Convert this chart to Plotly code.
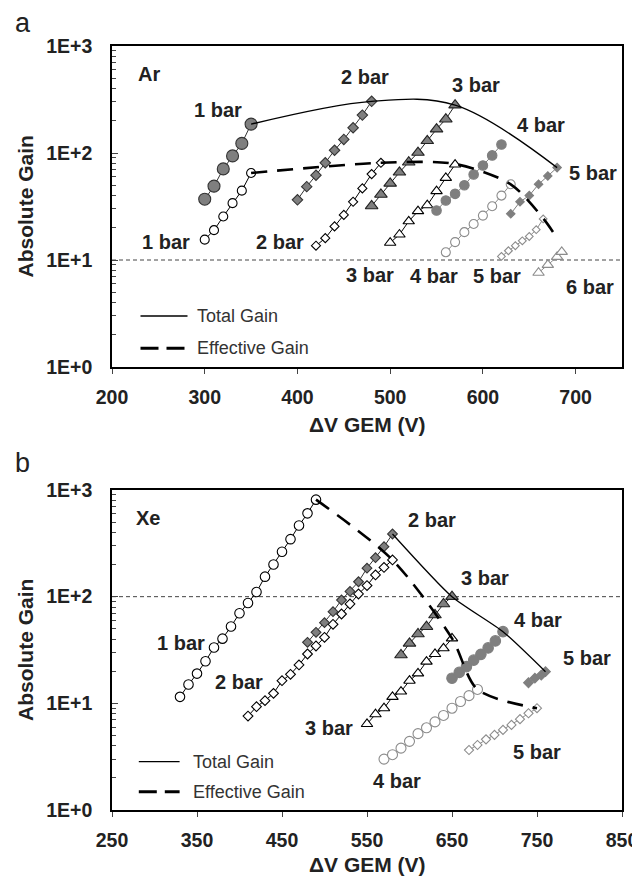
import math
import plotly.graph_objects as go
from plotly.subplots import make_subplots

# ---------------- Panel a : Ar ----------------
AR_V_1T = [300, 310, 320, 330, 340, 350]
AR_G_1T = [37, 49, 71, 94, 123, 186]
AR_V_1E = [300, 310, 320, 330, 340, 350]
AR_G_1E = [15.5, 19, 25.5, 34, 44.5, 65]
AR_V_2T = [400, 410, 420, 430, 440, 450, 460, 470, 480]
AR_G_2T = [36.5, 48.5, 62, 81, 106, 134, 172, 226, 304]
AR_V_2E = [420, 430, 440, 450, 460, 470, 480, 490]
AR_G_2E = [13.6, 16, 20.6, 26.4, 35, 46.7, 63.5, 81]
AR_V_3T = [480, 490, 500, 510, 520, 530, 540, 550, 560, 570]
AR_G_3T = [32, 41, 52, 66, 82, 101, 130, 167, 207, 280]
AR_V_3E = [500, 510, 520, 530, 540, 550, 560, 570]
AR_G_3E = [14.5, 17.3, 23, 28.6, 32.5, 44, 58.5, 78]
AR_V_4T = [550, 560, 570, 580, 590, 600, 610, 620]
AR_G_4T = [29, 36, 41.5, 50, 63, 76.5, 95, 120]
AR_V_4E = [560, 570, 580, 590, 600, 610, 620, 630]
AR_G_4E = [11.8, 14.7, 18.2, 21.7, 26, 31.8, 40, 51]
AR_V_5T = [630, 640, 650, 660, 670, 680]
AR_G_5T = [27, 35, 40, 51, 61, 73]
AR_V_5E = [620, 627.5, 635, 642.5, 650, 657.5, 665]
AR_G_5E = [10.8, 12.2, 13.6, 15.1, 16.6, 19.2, 24.2]
AR_V_6E = [660, 670, 680, 685]
AR_G_6E = [7.6, 9.0, 10.7, 11.9]
AR_TOT_V = [350, 480, 570, 680]
AR_TOT_G = [186, 304, 280, 73]
AR_EFF_V = [350, 490, 570, 630, 665, 680]
AR_EFF_G = [65, 81, 79, 51, 24.5, 16]
AR_REF = 10

# ---------------- Panel b : Xe ----------------
XE_V_1 = [330, 340, 350, 360, 370, 380, 390, 400, 410, 420, 430, 440, 450, 460, 470, 480, 490]
XE_G_1 = [11.5, 15, 19, 24.8, 33.4, 40.4, 52.6, 69.8, 87.3, 110.5, 154, 200, 264, 346, 465, 604, 812]
XE_V_2T = [480, 490, 500, 510, 520, 530, 540, 550, 560, 570, 580]
XE_G_2T = [37.3, 46.3, 57.1, 72.3, 93, 112, 138, 185, 232, 294, 387]
XE_V_2E = [410, 420, 430, 440, 450, 460, 470, 480, 490, 500, 510, 520, 530, 540, 550, 560, 570, 580]
XE_G_2E = [7.6, 9.3, 10.6, 12.4, 16.3, 18.7, 22.9, 29, 34.5, 41.6, 55, 68.8, 85.4, 106, 127, 160, 188, 221]
XE_V_3T = [590, 600, 610, 620, 630, 640, 650]
XE_G_3T = [28.4, 36.5, 44.7, 52.3, 67.3, 85.4, 100]
XE_V_3E = [550, 560, 570, 580, 590, 600, 610, 620, 630, 640, 650]
XE_G_3E = [6.4, 7.9, 9, 11.5, 12.9, 16.3, 19.1, 24.6, 29, 32.8, 40.6]
XE_V_4T = [650, 658.5, 667, 675.5, 684, 692.5, 701, 710]
XE_G_4T = [17.2, 19.5, 22.1, 25.4, 28.8, 33.1, 38.5, 47]
XE_V_4E = [570, 580, 590, 600, 610, 620, 630, 640, 650, 660, 670, 680]
XE_G_4E = [3.0, 3.3, 3.8, 4.4, 5.2, 5.9, 6.7, 7.7, 9.0, 10.4, 11.8, 13.5]
XE_V_5T = [740, 747.5, 755, 760]
XE_G_5T = [15.6, 17.2, 18.4, 19.8]
XE_V_5E = [670, 680, 690, 700, 710, 720, 730, 740, 750]
XE_G_5E = [3.65, 4.07, 4.6, 5.06, 5.63, 6.28, 7.1, 8.07, 9.0]
XE_TOT_V = [580, 650, 710, 760]
XE_TOT_G = [387, 100, 47, 19.8]
XE_EFF_V = [490, 580, 650, 680, 750]
XE_EFF_G = [812, 221, 40.6, 13.5, 9]
XE_REF = 100

# ---------------- Labels ----------------
AR_LABELS = ["Ar", "1 bar", "2 bar", "3 bar", "4 bar", "5 bar",
             "1 bar", "2 bar", "3 bar", "4 bar", "5 bar", "6 bar"]
AR_LAB_V = [240, 314, 473, 593, 663, 719, 258, 381, 478, 547, 615, 715]
AR_LAB_G = [553, 251, 516, 432, 183, 64.5, 14.8, 14.8, 7.25, 7.1, 7.1, 5.6]
XE_LABELS = ["Xe", "2 bar", "3 bar", "4 bar", "5 bar", "1 bar", "2 bar", "3 bar", "4 bar", "5 bar"]
XE_LAB_V = [292, 627, 689, 751, 809, 331, 399, 505, 585, 750]
XE_LAB_G = [543, 523, 149, 60.5, 26.4, 36.6, 16, 5.85, 1.89, 3.52]

X_TICKS_A = [200, 300, 400, 500, 600, 700]
X_TICKS_B = [250, 350, 450, 550, 650, 750, 850]
Y_TICKS = [1, 10, 100, 1000]
Y_TICKTEXT = ["1E+0", "1E+1", "1E+2", "1E+3"]
Y_MINOR = [m * 10 ** d for d in range(3) for m in range(2, 10)]

FONT = "Liberation Sans, Arial, sans-serif"
GRAY = "#7f7f7f"
GRAY_EDGE = "#8c8c8c"

fig = make_subplots(rows=2, cols=1, vertical_spacing=0.0)


def series(row, xs, ys, symbol, size, fill, edge, lw=1.0):
    fig.add_trace(go.Scatter(
        x=xs, y=ys, mode="lines+markers",
        line=dict(color=edge, width=lw),
        marker=dict(symbol=symbol, size=size, color=fill,
                    line=dict(color=edge, width=1.1)),
        showlegend=False, hoverinfo="skip"), row=row, col=1)


def envelope(row, xs, ys, dash, width, smooth):
    fig.add_trace(go.Scatter(
        x=xs, y=ys, mode="lines",
        line=dict(color="black", width=width, dash=dash, shape="spline", smoothing=smooth),
        showlegend=False, hoverinfo="skip"), row=row, col=1)


def refline(row, xr, val):
    fig.add_trace(go.Scatter(
        x=xr, y=[val, val], mode="lines",
        line=dict(color="#444444", width=1, dash="4px,3px"),
        showlegend=False, hoverinfo="skip"), row=row, col=1)


# panel a
refline(1, [200, 750], AR_REF)
series(1, AR_V_1E, AR_G_1E, "circle", 9, "white", "black")
series(1, AR_V_1T, AR_G_1T, "circle", 12, GRAY, "#333333")
series(1, AR_V_2E, AR_G_2E, "diamond", 7, "white", "black")
series(1, AR_V_2T, AR_G_2T, "diamond", 8, GRAY, "#333333")
series(1, AR_V_3E, AR_G_3E, "triangle-up", 10, "white", "black")
series(1, AR_V_3T, AR_G_3T, "triangle-up", 11, GRAY, "#222222")
series(1, AR_V_4E, AR_G_4E, "circle", 9, "white", GRAY_EDGE)
series(1, AR_V_4T, AR_G_4T, "circle", 9.5, GRAY, GRAY)
series(1, AR_V_5E, AR_G_5E, "diamond", 6, "white", GRAY_EDGE)
series(1, AR_V_5T, AR_G_5T, "diamond", 6.5, GRAY, GRAY)
series(1, AR_V_6E, AR_G_6E, "triangle-up", 10, "white", GRAY_EDGE)
envelope(1, AR_TOT_V, AR_TOT_G, "solid", 1.3, 1.0)
envelope(1, AR_EFF_V, AR_EFF_G, "16px,10px", 2.6, 0.8)

# panel b
refline(2, [250, 850], XE_REF)
series(2, XE_V_1, XE_G_1, "circle", 9.5, "white", "black")
series(2, XE_V_2E, XE_G_2E, "diamond", 7.5, "white", "black")
series(2, XE_V_2T, XE_G_2T, "diamond", 7.5, GRAY, "#333333")
series(2, XE_V_3E, XE_G_3E, "triangle-up", 10, "white", "black")
series(2, XE_V_3T, XE_G_3T, "triangle-up", 11, GRAY, "#222222")
series(2, XE_V_4E, XE_G_4E, "circle", 10, "white", GRAY_EDGE)
series(2, XE_V_4T, XE_G_4T, "circle", 10.5, GRAY, GRAY)
series(2, XE_V_5E, XE_G_5E, "diamond", 7, "white", GRAY_EDGE)
series(2, XE_V_5T, XE_G_5T, "diamond", 7.5, GRAY, GRAY)
envelope(2, XE_TOT_V, XE_TOT_G, "solid", 1.3, 0.6)
envelope(2, XE_EFF_V, XE_EFF_G, "16px,10px", 2.6, 0.8)

# layout / axes
# The page body has an 8px default margin, so the figure is drawn 8px smaller
# and everything is laid out in page pixels shifted by that offset.
PAGE_W, PAGE_H, OFF = 640, 878, 8
W, H = PAGE_W - OFF, PAGE_H - OFF
PL, PR, PT, PB = 112, 622, 46, 810          # plot area in page pixels
ML, MR, MT, MB = PL - OFF, PAGE_W - PR, PT - OFF, PAGE_H - PB
PH = H - MT - MB
PW = W - ML - MR


def py(Y):
    return (PB - Y) / PH


def px(X):
    return (X - PL) / PW


axis_common = dict(
    showline=True, linecolor="black", linewidth=1.5, mirror=True,
    showgrid=False, zeroline=False,
)

fig.update_xaxes(**axis_common, ticks="outside", ticklen=5, tickwidth=1.2,
                 ticklabelstandoff=7,
                 tickfont=dict(family=FONT, size=19.5, color="#222222", weight="bold"))
fig.update_xaxes(range=[200, 750], tickmode="array", tickvals=X_TICKS_A,
                 domain=[0, 1], row=1, col=1)
fig.update_xaxes(range=[250, 850], tickmode="array", tickvals=X_TICKS_B,
                 domain=[0, 1], row=2, col=1)
fig.update_yaxes(**axis_common, type="log", ticks="inside", ticklen=6, tickwidth=1.2,
                 tickmode="array", tickvals=Y_TICKS, ticktext=Y_TICKTEXT,
                 range=[0, 3], ticklabelstandoff=14,
                 tickfont=dict(family=FONT, size=19.5, color="#222222", weight="bold"),
                 minor=dict(ticks="inside", ticklen=4, tickwidth=1,
                            tickmode="array", tickvals=Y_MINOR))
fig.update_yaxes(domain=[py(367), 1.0], row=1, col=1)
fig.update_yaxes(domain=[0.0, py(490)], row=2, col=1)

ann = []
lab_font = dict(family=FONT, size=20, color="#222222", weight="bold")
for t, v, g in zip(AR_LABELS, AR_LAB_V, AR_LAB_G):
    ann.append(dict(text=t, x=v, y=math.log10(g), xref="x", yref="y", showarrow=False,
                    xanchor="center", yanchor="middle", font=lab_font))
for t, v, g in zip(XE_LABELS, XE_LAB_V, XE_LAB_G):
    ann.append(dict(text=t, x=v, y=math.log10(g), xref="x2", yref="y2", showarrow=False,
                    xanchor="center", yanchor="middle", font=lab_font))

title_font = dict(family=FONT, size=21, color="#222222", weight="bold")
for yc in (206.5, 650):
    ann.append(dict(text="Absolute Gain", x=px(25), y=py(yc), xref="paper", yref="paper",
                    textangle=-90, showarrow=False, xanchor="center", yanchor="middle",
                    font=title_font))
for yc in (424, 865):
    ann.append(dict(text="ΔV GEM (V)", x=px(367), y=py(yc), xref="paper", yref="paper",
                    showarrow=False, xanchor="center", yanchor="middle", font=title_font))
for t, xc, yc in (("a", 23, 23), ("b", 22, 463)):
    ann.append(dict(text=t, x=px(xc), y=py(yc), xref="paper", yref="paper", showarrow=False,
                    xanchor="center", yanchor="middle",
                    font=dict(family=FONT, size=27, color="#222222")))

# legends (drawn manually)
leg_font = dict(family=FONT, size=18, color="#333333")
shapes = []
for (x0, x1, yt, ye, xt) in [(140.5, 187.5, 316, 348.3, 195), (138.8, 179.6, 761.7, 791.7, 191)]:
    shapes.append(dict(type="line", xref="paper", yref="paper", x0=px(x0), x1=px(x1),
                       y0=py(yt), y1=py(yt), line=dict(color="black", width=1.3)))
    shapes.append(dict(type="line", xref="paper", yref="paper", x0=px(x0), x1=px(x1),
                       y0=py(ye), y1=py(ye), line=dict(color="black", width=3, dash="18px,8px")))
    ann.append(dict(text="Total Gain", x=px(xt), y=py(yt), xref="paper", yref="paper",
                    xanchor="left", yanchor="middle", showarrow=False, font=leg_font))
    ann.append(dict(text="Effective Gain", x=px(xt), y=py(ye), xref="paper", yref="paper",
                    xanchor="left", yanchor="middle", showarrow=False, font=leg_font))

fig.update_layout(
    width=W, height=H,
    margin=dict(l=ML, r=MR, t=MT, b=MB, autoexpand=False),
    paper_bgcolor="white", plot_bgcolor="white",
    annotations=ann, shapes=shapes, showlegend=False,
)

fig.write_html("out.html")
